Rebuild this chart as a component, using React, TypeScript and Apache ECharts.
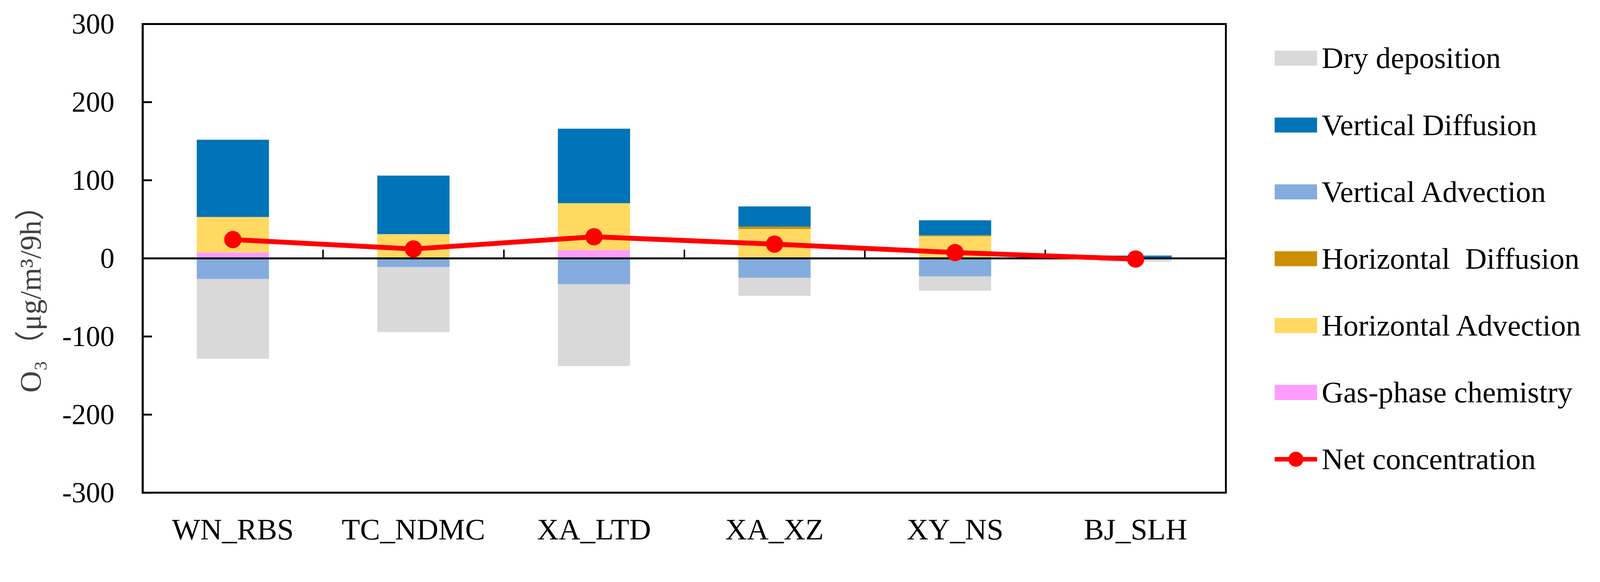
import React, { useEffect, useRef } from 'react';
import * as echarts from 'echarts';

const categories = ['WN_RBS', 'TC_NDMC', 'XA_LTD', 'XA_XZ', 'XY_NS', 'BJ_SLH'];
const gasPhaseChemistry = [7.6, 0, 10.6, 0, 0, 0];
const horizontalAdvection = [45.3, 31, 60, 37.6, 28.3, 0];
const horizontalDiffusion = [0, 0, 0, 3, 1.2, 0];
const verticalDiffusion = [99, 75, 95.4, 25.8, 19.2, 3.5];
const verticalAdvection = [-26.3, -11.2, -33.2, -24.8, -23.2, 0];
const dryDeposition = [-102.3, -83.2, -104.8, -23.2, -18.1, -4.3];
const netConcentration = [24, 12, 27.6, 18.2, 7.4, -0.9];

const yMin = -300;
const yMax = 300;
const yInterval = 100;

const legendOrder = [
  'Dry deposition',
  'Vertical Diffusion',
  'Vertical Advection',
  'Horizontal  Diffusion',
  'Horizontal Advection',
  'Gas-phase chemistry',
  'Net concentration',
];

const FONT = '"Liberation Serif", "Times New Roman", serif';
const TITLE_FONT = '"Liberation Serif", "Times New Roman", "Noto Sans CJK SC", serif';
const NET_ICON =
  'path://M0 14 H113 V26 H0 Z M36.5 20 A20 20 0 1 1 76.5 20 A20 20 0 1 1 36.5 20 Z';

const REF_W = 4264;
const REF_H = 1490;

export default function App() {
  const ref = useRef<HTMLDivElement>(null);

  useEffect(() => {
    document.documentElement.style.margin = '0';
    document.documentElement.style.overflow = 'hidden';
    document.body.style.margin = '0';
    document.body.style.overflow = 'hidden';
    const el = ref.current;
    if (!el) return;
    const W = el.clientWidth || REF_W;
    const s = W / REF_W;
    const H = REF_H * s;
    el.style.height = H + 'px';
    const P = (v: number) => v * s;

    const chart = echarts.init(el, null, { renderer: 'svg', width: W, height: H });

    const barSeries = (name: string, data: number[], color: string) => ({
      name,
      type: 'bar',
      stack: 'total',
      data,
      barWidth: '40%',
      itemStyle: { color },
      z: 2,
    });

    chart.setOption({
      animation: false,
      backgroundColor: '#ffffff',
      grid: {
        left: P(380),
        right: P(997),
        top: P(64),
        bottom: P(177),
        containLabel: false,
        outerBoundsMode: 'none',
        show: true,
        borderColor: '#000000',
        borderWidth: P(5),
        backgroundColor: 'transparent',
      },
      xAxis: [
        {
          type: 'category',
          data: categories,
          z: 5,
          axisLine: { onZero: true, lineStyle: { color: '#000000', width: P(5) } },
          axisTick: { show: true, inside: true, length: P(23), lineStyle: { color: '#000000', width: P(4) } },
          axisLabel: { show: false },
          splitLine: { show: false },
        },
        {
          type: 'category',
          data: categories,
          position: 'bottom',
          z: 5,
          axisLine: { show: false, onZero: false },
          axisTick: { show: false },
          axisLabel: {
            interval: 0,
            margin: P(58),
            fontSize: P(80),
            fontFamily: FONT,
            color: '#000000',
          },
          splitLine: { show: false },
        },
      ],
      yAxis: {
        type: 'value',
        min: yMin,
        max: yMax,
        interval: yInterval,
        z: 5,
        axisLine: { show: true, onZero: false, lineStyle: { color: '#000000', width: P(5) } },
        axisTick: { show: true, inside: true, length: P(25), lineStyle: { color: '#000000', width: P(5) } },
        axisLabel: { margin: P(75), fontSize: P(76), fontFamily: FONT, color: '#000000' },
        splitLine: { show: false },
      },
      legend: {
        orient: 'vertical',
        left: P(3397),
        top: P(115),
        padding: 0,
        itemWidth: P(113),
        itemHeight: P(40),
        itemGap: P(98),
        textStyle: {
          fontSize: P(80),
          fontFamily: FONT,
          color: '#000000',
          padding: [0, 0, 0, P(7)],
        },
        data: legendOrder.map((n) =>
          n === 'Net concentration'
            ? { name: n, icon: NET_ICON, itemStyle: { color: '#FF0000' } }
            : { name: n, icon: 'rect' }
        ),
      },
      graphic: [
        {
          type: 'text',
          x: P(82),
          y: P(777),
          rotation: Math.PI / 2,
          style: {
            text: 'O₃（μg/m³/9h）',
            fontSize: P(80),
            fontFamily: TITLE_FONT,
            fill: '#404040',
            align: 'center',
            verticalAlign: 'middle',
          },
        },
      ],
      series: [
        barSeries('Gas-phase chemistry', gasPhaseChemistry, '#FF9CFF'),
        barSeries('Horizontal Advection', horizontalAdvection, '#FFD961'),
        barSeries('Horizontal  Diffusion', horizontalDiffusion, '#CC8F00'),
        barSeries('Vertical Diffusion', verticalDiffusion, '#0074B8'),
        barSeries('Vertical Advection', verticalAdvection, '#85ACDE'),
        barSeries('Dry deposition', dryDeposition, '#D9D9D9'),
        {
          name: 'Net concentration',
          type: 'line',
          data: netConcentration,
          z: 10,
          symbol: 'circle',
          symbolSize: P(46),
          itemStyle: { color: '#FF0000' },
          lineStyle: { color: '#FF0000', width: P(13) },
        },
      ],
    });

    return () => chart.dispose();
  }, []);

  return <div ref={ref} style={{ width: '100vw', height: 'calc(100vw * 0.349437)' }} />;
}
